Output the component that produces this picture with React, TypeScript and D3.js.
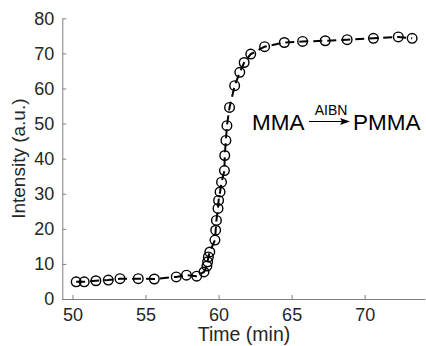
import { useEffect, useRef } from 'react'
import * as d3 from 'd3'

// time (min) and intensity (a.u.)
const times = [
  50.25, 50.8, 51.6, 52.45, 53.25, 54.5, 55.6, 57.1, 57.8, 58.5,
  59.0, 59.2, 59.25, 59.3, 59.4, 59.75, 59.8, 59.85, 59.96, 60.0,
  60.1, 60.2, 60.4, 60.42, 60.5, 60.57, 60.75, 61.1, 61.45, 61.75,
  62.2, 63.15, 64.5, 65.75, 67.3, 68.8, 70.6, 72.3, 73.25,
]
const intensity = [
  4.9, 4.9, 5.2, 5.4, 5.8, 5.8, 5.7, 6.3, 6.8, 6.5,
  7.7, 9.4, 10.6, 12.0, 13.4, 16.8, 19.6, 22.4, 25.8, 28.1,
  30.5, 33.3, 36.6, 40.9, 45.2, 49.4, 54.6, 60.8, 64.6, 67.4,
  69.8, 71.9, 73.1, 73.4, 73.6, 73.9, 74.3, 74.7, 74.3,
]
const xTicks = [50, 55, 60, 65, 70]
const yTicks = [0, 10, 20, 30, 40, 50, 60, 70, 80]

const W = 426
const H = 346
const FONT = '"Liberation Sans", Arial, Helvetica, sans-serif'
const TEXT = '#262626'
const AXIS = '#808080'

export default function App() {
  const svgRef = useRef<SVGSVGElement>(null)

  useEffect(() => {
    if (!svgRef.current) return
    const svg = d3.select(svgRef.current)
    svg.selectAll('*').remove()

    const x = d3.scaleLinear().domain([49.3, 74.13]).range([62.3, 425])
    const y = d3.scaleLinear().domain([0, 80]).range([299, 18.3])

    const data = times.map((t, i) => ({ t, v: intensity[i] }))

    // axes (MATLAB style: ticks pointing inward)
    const gx = svg.append('g').attr('transform', `translate(0,${y(0)})`)
      .call(d3.axisBottom(x).tickValues(xTicks).tickSizeInner(-4).tickSizeOuter(0).tickPadding(9))
    const gy = svg.append('g').attr('transform', `translate(${x(49.3)},0)`)
      .call(d3.axisLeft(y).tickValues(yTicks).tickSizeInner(-4).tickSizeOuter(0).tickPadding(8))

    for (const g of [gx, gy]) {
      g.select('.domain').attr('stroke', AXIS).attr('stroke-width', 1)
      g.selectAll('.tick line').attr('stroke', AXIS)
      g.selectAll('.tick text')
        .attr('fill', TEXT)
        .attr('font-size', '18px')
        .attr('font-family', FONT)
    }

    // dashed connecting line
    const line = d3.line<{ t: number; v: number }>()
      .x(d => x(d.t))
      .y(d => y(d.v))
    svg.append('path')
      .datum(data)
      .attr('fill', 'none')
      .attr('stroke', '#000')
      .attr('stroke-width', 2)
      .attr('stroke-dasharray', '9,5')
      .attr('d', line)

    // open circle markers
    svg.append('g').selectAll('circle')
      .data(data)
      .join('circle')
      .attr('cx', d => x(d.t))
      .attr('cy', d => y(d.v))
      .attr('r', 4.8)
      .attr('fill', 'none')
      .attr('stroke', '#000')
      .attr('stroke-width', 1.4)

    // axis labels
    svg.append('text')
      .attr('x', 244)
      .attr('y', 341)
      .attr('text-anchor', 'middle')
      .attr('fill', TEXT)
      .attr('font-size', '19.5px')
      .attr('font-family', FONT)
      .text('Time (min)')

    svg.append('text')
      .attr('transform', `translate(25,${(y(0) + y(80)) / 2}) rotate(-90)`)
      .attr('text-anchor', 'middle')
      .attr('fill', TEXT)
      .attr('font-size', '19px')
      .attr('font-family', FONT)
      .text('Intensity (a.u.)')

    // reaction annotation
    const note = svg.append('g').attr('font-family', FONT).attr('fill', '#000')
    note.append('text').attr('x', 252).attr('y', 130).attr('font-size', '22.5px').text('MMA')
    note.append('text').attr('x', 353).attr('y', 130).attr('font-size', '22.5px').text('PMMA')
    note.append('text').attr('x', 331).attr('y', 115).attr('text-anchor', 'middle')
      .attr('font-size', '14px').text('AIBN')
    note.append('line')
      .attr('x1', 309).attr('x2', 344)
      .attr('y1', 121.5).attr('y2', 121.5)
      .attr('stroke', '#000').attr('stroke-width', 1.2)
    note.append('path')
      .attr('d', 'M340,118 L350,121.5 L340,125 L342,121.5 Z')
      .attr('fill', '#000')
  }, [])

  return (
    <div style={{ position: 'fixed', left: 0, top: 0, background: '#fff' }}>
      <svg ref={svgRef} width={W} height={H} style={{ display: 'block' }} />
    </div>
  )
}
